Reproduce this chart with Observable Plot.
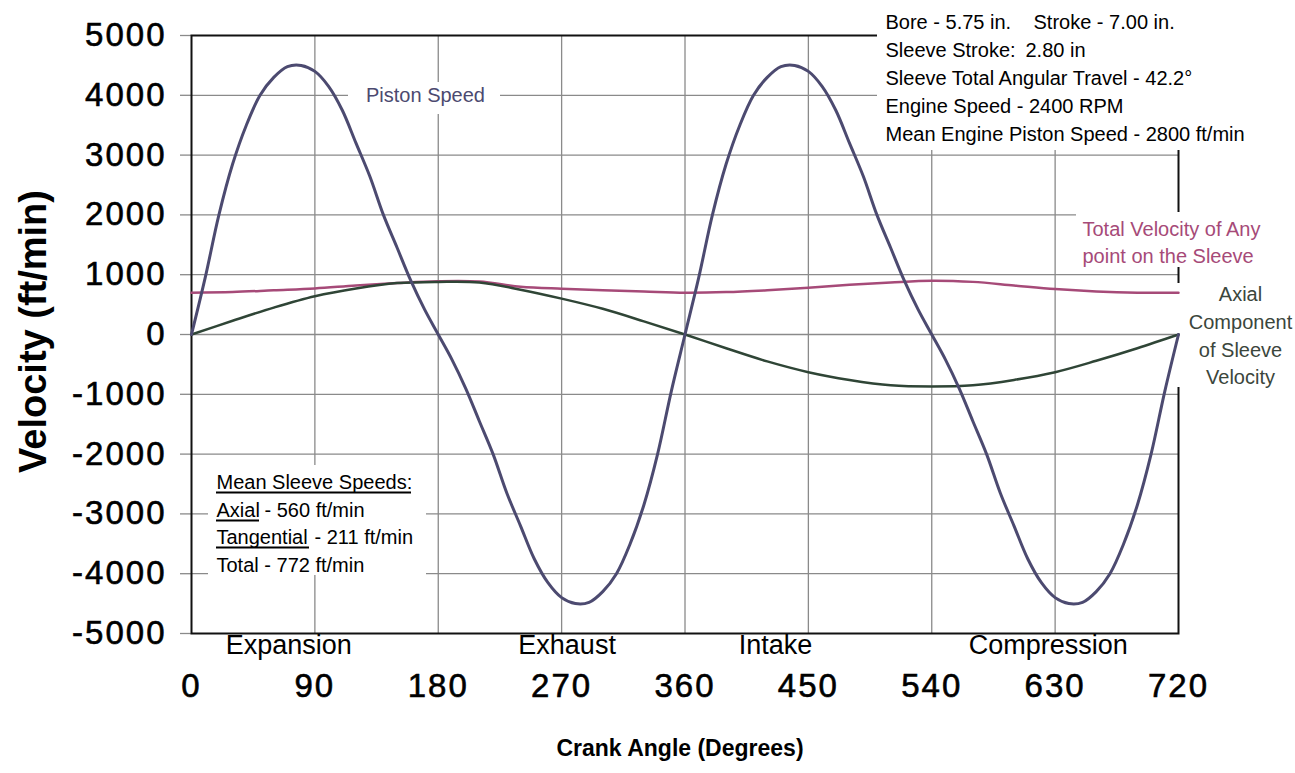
<!DOCTYPE html>
<html>
<head>
<meta charset="utf-8">
<script src="https://cdn.jsdelivr.net/npm/d3@7"></script>
<script src="https://cdn.jsdelivr.net/npm/@observablehq/plot@0.6"></script>
<style>
  html, body { margin: 0; padding: 0; background: #fff; }
  g[aria-label="y-axis tick label"], g[aria-label="x-axis tick label"] { letter-spacing: 2px; }
  g[aria-label="y-axis tick label"] text, g[aria-label="x-axis tick label"] text { stroke: #000; stroke-width: 0.6px; }
</style>
</head>
<body>
<div id="chart"></div>
<script>
// ---------- data ----------
const xTicks = [0, 90, 180, 270, 360, 450, 540, 630, 720];
const yTicks = [-5000, -4000, -3000, -2000, -1000, 0, 1000, 2000, 3000, 4000, 5000];

const pistonAngle = [
  0, 10, 20, 30, 40, 50, 60, 70, 80, 90, 100, 110, 120, 130, 140, 150, 160, 170, 180,
  190, 200, 210, 220, 230, 240, 250, 260, 270, 280, 290, 300, 310, 320, 330, 340, 350, 360,
  370, 380, 390, 400, 410, 420, 430, 440, 450, 460, 470, 480, 490, 500, 510, 520, 530, 540,
  550, 560, 570, 580, 590, 600, 610, 620, 630, 640, 650, 660, 670, 680, 690, 700, 710, 720
];
const pistonSpeed = [
  0, 950, 2000, 2850, 3500, 4000, 4300, 4480, 4500, 4400, 4150, 3750, 3200, 2650, 2000, 1450, 900, 420, 0,
  -420, -900, -1450, -2000, -2650, -3200, -3750, -4150, -4400, -4500, -4480, -4300, -4000, -3500, -2850, -2000, -950, 0,
  950, 2000, 2850, 3500, 4000, 4300, 4480, 4500, 4400, 4150, 3750, 3200, 2650, 2000, 1450, 900, 420, 0,
  -420, -900, -1450, -2000, -2650, -3200, -3750, -4150, -4400, -4500, -4480, -4300, -4000, -3500, -2850, -2000, -950, 0
];

const sleeveAngle = [0, 30, 60, 90, 120, 150, 180, 210, 240, 270, 300, 330, 360,
                     390, 420, 450, 480, 510, 540, 570, 600, 630, 660, 690, 720];
const axialVelocity = [0, 230, 450, 640, 770, 860, 880, 870, 750, 600, 430, 220, 0,
                       -230, -450, -630, -760, -850, -870, -850, -760, -630, -440, -230, 0];
const totalVelocity = [700, 710, 740, 770, 820, 860, 890, 885, 800, 765, 740, 720, 700,
                       710, 740, 780, 830, 870, 900, 880, 820, 760, 720, 700, 700];

const phaseNames = ["Expansion", "Exhaust", "Intake", "Compression"];
const phaseAngles = [71, 274, 426, 625];

// ---------- layout ----------
const W = 1295, H = 773;
const mL = 191, mR = 117, mT = 35, mB = 140;
const xPix = d3.scaleLinear([0, 720], [mL, W - mR]);
const yPix = d3.scaleLinear([-5000, 5000], [H - mB, mT]);

const colPiston = "#4c4a70";
const colTotal = "#a64a78";
const colAxial = "#2f4536";
const gridCol = "#8a8a8a";

// white label backgrounds (pixel layout)
const boxesPx = [
  {l: 877, r: 1295, t: 0, b: 150},
  {l: 348, r: 500, t: 82, b: 114},
  {l: 1076, r: 1285, t: 212, b: 267},
  {l: 1176, r: 1295, t: 283, b: 387},
  {l: 208, r: 426, t: 465, b: 575}
];
const boxes = boxesPx.map(b => ({x1: xPix.invert(b.l), x2: xPix.invert(b.r), y1: yPix.invert(b.t), y2: yPix.invert(b.b)}));

// underline strokes (pixel layout)
const underPx = [
  {l: 216, r: 411, y: 492},
  {l: 216, r: 259, y: 520},
  {l: 216, r: 309, y: 547}
];
const underlines = underPx.map(u => ({x1: xPix.invert(u.l), x2: xPix.invert(u.r), y: yPix.invert(u.y)}));

function lbl(text, px, base, size) {
  return {text, x: xPix.invert(px), y: yPix.invert(base - 0.32 * size)};
}
const fs = 20;
const topRight = [
  lbl("Bore - 5.75 in.", 885, 28, fs),
  lbl("Stroke - 7.00 in.", 1033, 28, fs),
  lbl("Sleeve Stroke:", 885, 56, fs),
  lbl("2.80 in", 1025, 56, fs),
  lbl("Sleeve Total Angular Travel - 42.2°", 885, 84, fs),
  lbl("Engine Speed - 2400 RPM", 885, 112, fs),
  lbl("Mean Engine Piston Speed - 2800 ft/min", 885, 140, fs)
];
const meanText = [
  lbl("Mean Sleeve Speeds:", 216, 488, fs),
  lbl("Axial", 216, 516, fs),
  lbl("Tangential", 216, 543, fs),
  lbl("- 560 ft/min", 264, 516, fs),
  lbl("- 211 ft/min", 314, 543, fs),
  lbl("Total - 772 ft/min", 216, 571, fs)
];
const pistonLbl = [lbl("Piston Speed", 425, 101, fs)];
const totalLbl = [
  lbl("Total Velocity of Any", 1082, 235, fs),
  lbl("point on the Sleeve", 1082, 262, fs)
];
const axialLbl = [
  lbl("Axial", 1240, 300, fs),
  lbl("Component", 1240, 328, fs),
  lbl("of Sleeve", 1240, 356, fs),
  lbl("Velocity", 1240, 383, fs)
];

const piston = pistonAngle.map((a, i) => ({a, v: pistonSpeed[i]}));
const axial = sleeveAngle.map((a, i) => ({a, v: axialVelocity[i]}));
const total = sleeveAngle.map((a, i) => ({a, v: totalVelocity[i]}));
const phases = phaseNames.map((n, i) => ({n, a: phaseAngles[i]}));

const font = "'Liberation Sans', Arial, Helvetica, sans-serif";

const chart = Plot.plot({
  width: W, height: H,
  marginLeft: mL, marginRight: mR, marginTop: mT, marginBottom: mB,
  x: {domain: [0, 720], axis: null},
  y: {domain: [-5000, 5000], axis: null},
  style: {fontFamily: font, background: "#fff", color: "#000"},
  marks: [
    Plot.ruleX(xTicks.slice(1, -1), {stroke: gridCol, strokeWidth: 1.3}),
    Plot.ruleY(yTicks.slice(1, -1), {stroke: gridCol, strokeWidth: 1.3}),
    Plot.axisY({ticks: yTicks, tickSize: 11, tickPadding: 14, fontSize: 33, stroke: gridCol, strokeWidth: 1.3,
                tickFormat: d => String(d), label: null}),
    Plot.axisX({ticks: xTicks, tickSize: 0, tickPadding: 40, fontSize: 33, tickFormat: d => String(d), label: null}),
    Plot.frame({stroke: "#111", strokeWidth: 2}),
    Plot.rect(boxes, {x1: "x1", x2: "x2", y1: "y1", y2: "y2", fill: "#fff"}),
    Plot.line(total, {x: "a", y: "v", stroke: colTotal, strokeWidth: 2.5, curve: "catmull-rom"}),
    Plot.line(axial, {x: "a", y: "v", stroke: colAxial, strokeWidth: 2.5, curve: "catmull-rom"}),
    Plot.line(piston, {x: "a", y: "v", stroke: colPiston, strokeWidth: 3, curve: "catmull-rom"}),
    Plot.text(phases, {x: "a", y: () => -5000, text: "n", dy: 12, fontSize: 27, fill: "#000"}),
    Plot.text(topRight, {x: "x", y: "y", text: "text", textAnchor: "start", fontSize: fs, fill: "#000"}),
    Plot.text(meanText, {x: "x", y: "y", text: "text", textAnchor: "start", fontSize: fs, fill: "#000"}),
    Plot.ruleY(underlines, {y: "y", x1: "x1", x2: "x2", stroke: "#000", strokeWidth: 2}),
    Plot.text(pistonLbl, {x: "x", y: "y", text: "text", textAnchor: "middle", fontSize: fs, fill: colPiston}),
    Plot.text(totalLbl, {x: "x", y: "y", text: "text", textAnchor: "start", fontSize: fs, fill: colTotal}),
    Plot.text(axialLbl, {x: "x", y: "y", text: "text", textAnchor: "middle", fontSize: fs, fill: "#3b463c"}),
    Plot.text(["Velocity (ft/min)"], {frameAnchor: "left", textAnchor: "middle", rotate: -90, dx: -158, dy: -3, fontSize: 38, fontWeight: "bold", fill: "#000"}),
    Plot.text(["Crank Angle (Degrees)"], {frameAnchor: "bottom", dx: -5, dy: 122, fontSize: 23, fontWeight: "bold", fill: "#000"})
  ]
});
document.getElementById("chart").appendChild(chart);
</script>
</body>
</html>
